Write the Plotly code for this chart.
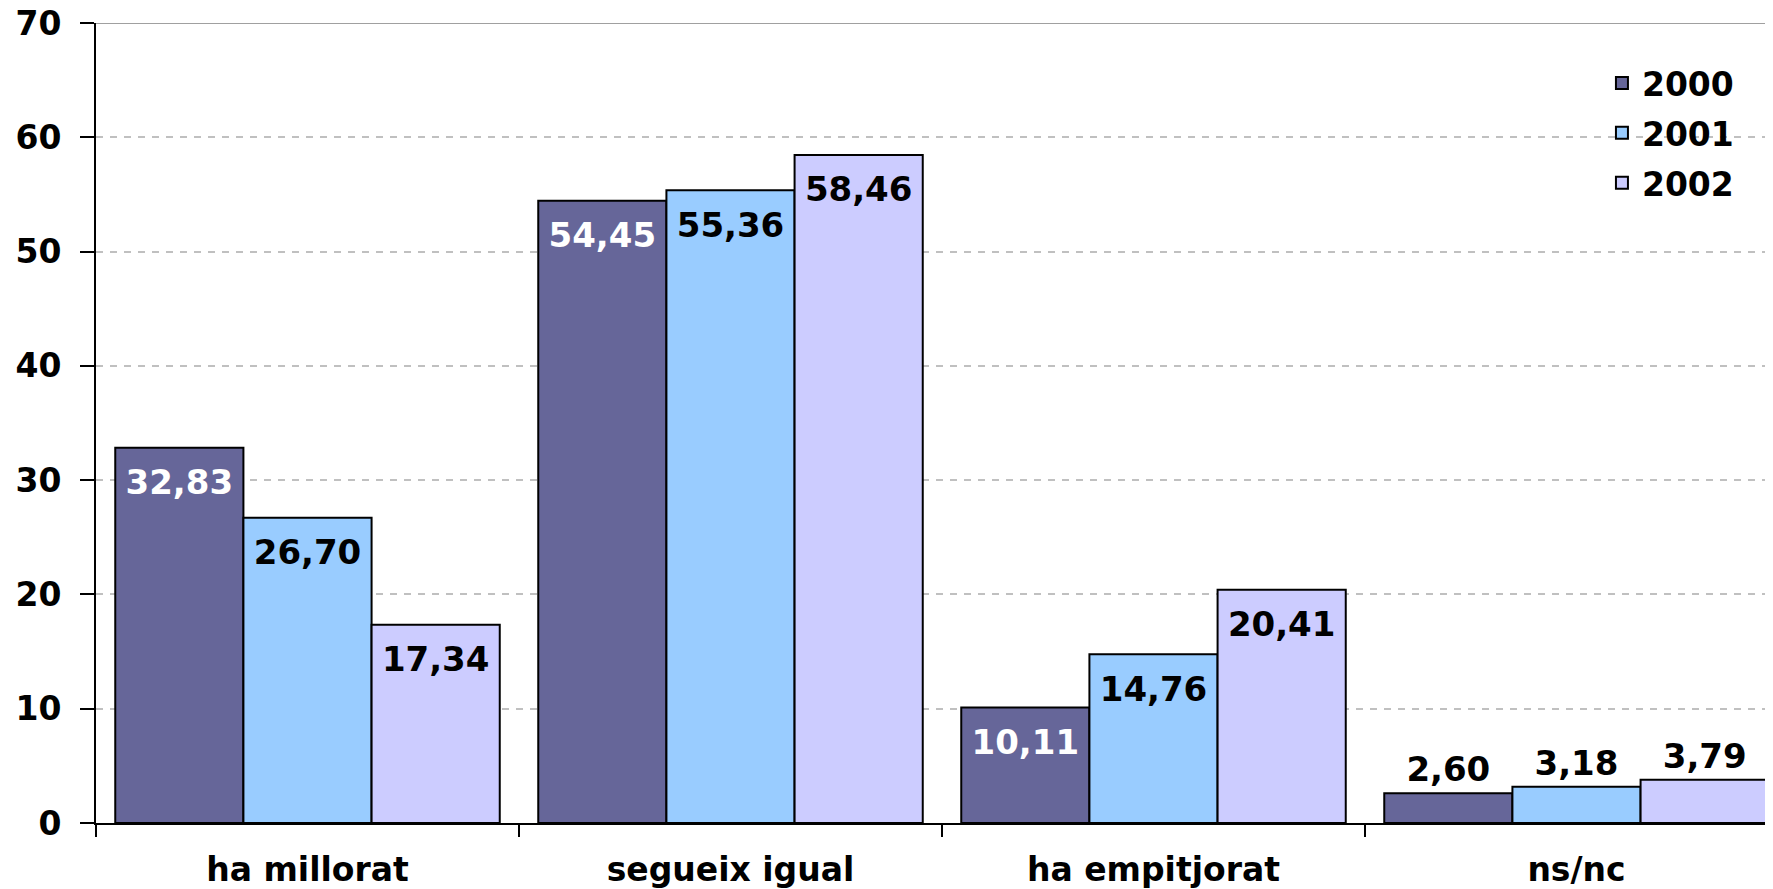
import plotly.graph_objects as go

categories = ["ha millorat", "segueix igual", "ha empitjorat", "ns/nc"]
years = ["2000", "2001", "2002"]
values_2000 = [32.83, 54.45, 10.11, 2.60]
values_2001 = [26.70, 55.36, 14.76, 3.18]
values_2002 = [17.34, 58.46, 20.41, 3.79]
y_ticks = [0, 10, 20, 30, 40, 50, 60, 70]

series = [values_2000, values_2001, values_2002]
colors = ["#666699", "#99CCFF", "#CCCCFF"]
label_colors = ["white", "black", "black"]
FONT = "DejaVu Sans, Verdana, sans-serif"
GAP = 0.091

fig = go.Figure()
for name, vals, col in zip(years, series, colors):
    fig.add_trace(go.Bar(
        x=categories, y=vals, name=name, offsetgroup=name, legendgroup=name,
        marker=dict(color=col, line=dict(color="black", width=2)),
        hoverinfo="skip",
    ))

# data labels: inside (below the top) for tall bars, above for the small ones
for name, vals, lc in zip(years, series, label_colors):
    inside = [v > 5 for v in vals]
    fig.add_trace(go.Scatter(
        x=categories, y=vals, offsetgroup=name, showlegend=False,
        mode="markers+text",
        texttemplate="%{y:.2f}",
        textposition=["bottom center" if i else "top center" for i in inside],
        textfont=dict(family=FONT, size=34, color=[lc if i else "black" for i in inside],
                      weight="bold"),
        marker=dict(size=[32 if i else 4 for i in inside], opacity=0),
        hoverinfo="skip", cliponaxis=False,
    ))

fig.add_shape(type="line", xref="paper", yref="y", x0=0, x1=1, y0=70, y1=70,
              line=dict(color="#a0a0a0", width=2), layer="below")

# the page body adds an 8px offset, so the figure is 8px smaller than the window
fig.update_layout(
    width=1765, height=881,
    margin=dict(l=88, r=0, t=15, b=66, autoexpand=False),
    paper_bgcolor="white", plot_bgcolor="white",
    barmode="group", bargap=GAP, bargroupgap=0,
    scattermode="group", scattergap=GAP,
    separators=",.",
    font=dict(family=FONT, color="black", size=32, weight="bold"),
    showlegend=True,
    legend=dict(x=0.898, xanchor="left", y=0.96, yanchor="top",
                font=dict(family=FONT, size=33, color="black", weight="bold"),
                bgcolor="rgba(0,0,0,0)", tracegroupgap=4, itemclick=False),
    xaxis=dict(type="category", range=[-0.5, 3.5 - 15 / 423], automargin=False,
               tickson="boundaries", ticks="outside", ticklen=12, tickwidth=2,
               tickcolor="black", showline=True, linecolor="black", linewidth=2,
               showgrid=False, zeroline=False, ticklabelstandoff=16,
               ticklabeloverflow="allow",
               tickfont=dict(family=FONT, size=33, color="black", weight="bold")),
    yaxis=dict(range=[0, 70], tickvals=y_ticks, ticks="outside", ticklen=14,
               automargin=False, ticklabeloverflow="allow",
               tickwidth=2, tickcolor="black", showline=True, linecolor="black",
               linewidth=2, showgrid=True, gridcolor="#c0c0c0", gridwidth=2,
               griddash="7px,7px", zeroline=False, ticklabelstandoff=12,
               tickfont=dict(family=FONT, size=33, color="black", weight="bold")),
)

fig.write_html("out.html")
